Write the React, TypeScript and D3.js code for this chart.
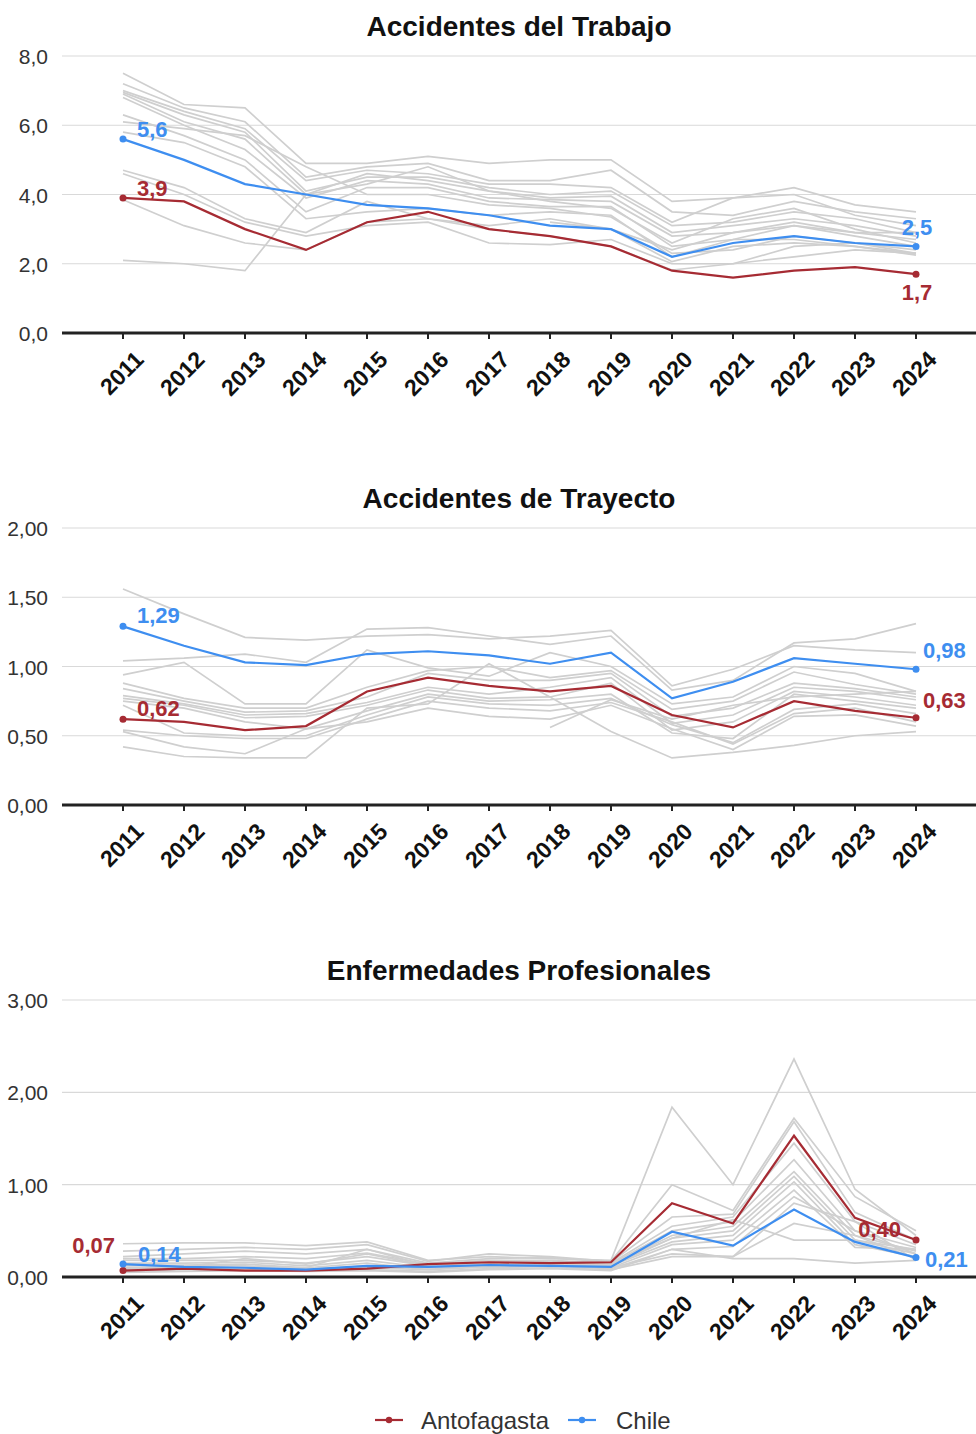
import React from "react";
import * as d3 from "d3";

const years = ["2011","2012","2013","2014","2015","2016","2017","2018","2019","2020","2021","2022","2023","2024"];

const titles = ["Accidentes del Trabajo", "Accidentes de Trayecto", "Enfermedades Profesionales"];
const seriesNames = ["Antofagasta", "Chile"];

// Accidentes del Trabajo
const trabajoChile = [5.6, 5.0, 4.3, 4.0, 3.7, 3.6, 3.4, 3.1, 3.0, 2.2, 2.6, 2.8, 2.6, 2.5];
const trabajoAntofagasta = [3.9, 3.8, 3.0, 2.4, 3.2, 3.5, 3.0, 2.8, 2.5, 1.8, 1.6, 1.8, 1.9, 1.7];
const trabajoOtras: (number | null)[][] = [
  [7.5, 6.6, 6.5, 4.9, 4.9, 5.1, 4.9, 5.0, 5.0, 3.8, 3.9, 4.2, 3.7, 3.5],
  [7.2, 6.5, 6.1, 4.5, 4.8, 4.9, 4.4, 4.4, 4.7, 3.5, 3.4, 3.8, 3.5, 3.3],
  [7.0, 6.4, 5.9, 4.4, 4.7, 4.6, 4.3, 4.3, 4.2, 3.2, 3.9, 4.0, 3.4, 3.1],
  [6.95, 6.3, 5.8, 4.1, 4.5, 4.5, 4.2, 4.0, 4.1, 3.1, 3.2, 3.5, 3.3, 2.9],
  [6.9, 6.1, 5.6, 4.0, 4.6, 4.4, 4.1, 3.9, 3.95, 2.9, 3.1, 3.3, 3.1, 2.8],
  [6.8, 6.0, 5.3, 3.9, 4.4, 4.3, 3.9, 3.85, 3.8, 2.8, 2.9, 3.2, 2.9, 2.7],
  [6.3, 5.7, 5.0, 3.5, 4.2, 4.2, 3.8, 3.65, 3.65, 2.5, 2.7, 3.1, 2.8, 2.5],
  [6.1, 5.9, 5.7, 4.8, 4.0, 4.0, 3.7, 3.6, 3.35, 2.3, 2.4, 2.8, 2.6, 2.4],
  [5.8, 5.5, 4.8, 3.3, 3.5, 3.6, 3.4, 3.5, 3.4, 2.2, 2.7, 2.7, 2.5, 2.3],
  [4.7, 4.2, 3.3, 2.9, 3.8, 3.3, 3.1, 3.3, 3.0, 2.06, 2.5, 2.6, 2.5, 2.25],
  [4.6, 4.0, 3.2, 2.8, 3.1, 3.2, 2.6, 2.55, 2.7, 2.0, 2.0, 2.5, 2.6, 2.3],
  [3.85, 3.1, 2.6, 2.4, 3.2, 3.3, 3.0, 2.8, 2.5, 1.82, 2.0, 2.2, 2.4, 2.3],
  [2.1, 2.0, 1.8, 4.0, 4.3, 4.8, 4.1, 3.8, 3.6, 2.6, 3.3, 3.6, 3.0, 2.6],
  [null, null, null, null, null, null, null, 3.2, 3.0, 2.4, 2.9, 3.1, 2.9, 2.9],
];

// Accidentes de Trayecto
const trayectoChile = [1.29, 1.15, 1.03, 1.01, 1.09, 1.11, 1.08, 1.02, 1.10, 0.77, 0.89, 1.06, 1.02, 0.98];
const trayectoAntofagasta = [0.62, 0.60, 0.54, 0.57, 0.82, 0.92, 0.86, 0.82, 0.86, 0.65, 0.56, 0.75, 0.68, 0.63];
const trayectoOtras: (number | null)[][] = [
  [1.56, 1.38, 1.21, 1.19, 1.22, 1.23, 1.20, 1.22, 1.26, 0.86, 0.98, 1.15, 1.12, 1.10],
  [1.04, 1.06, 1.09, 1.03, 1.27, 1.28, 1.22, 1.16, 1.22, 0.83, 0.90, 1.17, 1.20, 1.31],
  [0.94, 1.03, 0.73, 0.73, 1.12, 0.99, 0.93, 1.10, 1.00, 0.73, 0.78, 1.00, 0.95, 0.82],
  [0.88, 0.77, 0.70, 0.70, 0.85, 0.97, 1.00, 0.92, 0.97, 0.69, 0.75, 0.96, 0.87, 0.80],
  [0.84, 0.75, 0.67, 0.68, 0.78, 0.95, 0.90, 0.90, 0.95, 0.64, 0.70, 0.88, 0.84, 0.78],
  [0.79, 0.73, 0.65, 0.66, 0.74, 0.85, 0.80, 0.85, 0.92, 0.59, 0.65, 0.85, 0.82, 0.76],
  [0.77, 0.72, 0.63, 0.64, 0.72, 0.83, 0.77, 0.78, 0.88, 0.54, 0.60, 0.82, 0.78, 0.72],
  [0.75, 0.70, 0.60, 0.55, 0.68, 0.80, 0.75, 0.76, 0.80, 0.52, 0.48, 0.80, 0.75, 0.70],
  [0.72, 0.52, 0.50, 0.50, 0.65, 0.78, 0.73, 0.72, 0.77, 0.58, 0.45, 0.69, 0.73, 0.66],
  [0.54, 0.50, 0.48, 0.48, 0.62, 0.75, 0.70, 0.68, 0.74, 0.60, 0.44, 0.66, 0.70, 0.60],
  [0.53, 0.42, 0.37, 0.55, 0.60, 0.70, 0.64, 0.62, 0.72, 0.55, 0.40, 0.64, 0.65, 0.57],
  [0.42, 0.35, 0.34, 0.34, 0.70, 0.73, 1.02, 0.78, 0.53, 0.34, 0.38, 0.43, 0.50, 0.53],
  [null, null, null, null, null, null, null, 0.56, 0.76, 0.62, 0.72, 0.78, 0.80, 0.82],
];

// Enfermedades Profesionales
const enfermedadesChile = [0.14, 0.11, 0.10, 0.08, 0.12, 0.11, 0.13, 0.12, 0.11, 0.49, 0.34, 0.73, 0.38, 0.21];
const enfermedadesAntofagasta = [0.07, 0.09, 0.07, 0.07, 0.09, 0.14, 0.16, 0.15, 0.16, 0.80, 0.58, 1.53, 0.64, 0.40];
const enfermedadesOtras: (number | null)[][] = [
  [0.36, 0.37, 0.37, 0.34, 0.38, 0.18, 0.22, 0.20, 0.18, 1.84, 1.00, 2.36, 0.95, 0.45],
  [0.28, 0.30, 0.32, 0.30, 0.35, 0.17, 0.25, 0.22, 0.17, 1.00, 0.72, 1.72, 0.87, 0.50],
  [0.22, 0.25, 0.28, 0.25, 0.30, 0.15, 0.20, 0.21, 0.16, 0.65, 0.68, 1.68, 0.70, 0.40],
  [0.20, 0.20, 0.22, 0.20, 0.26, 0.14, 0.18, 0.18, 0.15, 0.55, 0.65, 1.45, 0.60, 0.35],
  [0.18, 0.18, 0.18, 0.15, 0.22, 0.12, 0.16, 0.17, 0.14, 0.50, 0.60, 1.27, 0.50, 0.32],
  [0.15, 0.15, 0.16, 0.12, 0.18, 0.10, 0.15, 0.16, 0.13, 0.45, 0.55, 1.14, 0.45, 0.28],
  [0.13, 0.13, 0.14, 0.10, 0.15, 0.08, 0.14, 0.15, 0.12, 0.42, 0.50, 1.09, 0.40, 0.25],
  [0.12, 0.12, 0.12, 0.10, 0.30, 0.12, 0.13, 0.14, 0.12, 0.38, 0.45, 1.03, 0.35, 0.22],
  [0.10, 0.10, 0.10, 0.08, 0.12, 0.10, 0.12, 0.13, 0.10, 0.35, 0.40, 0.94, 0.32, 0.30],
  [0.09, 0.11, 0.20, 0.14, 0.25, 0.12, 0.10, 0.12, 0.09, 0.30, 0.33, 0.87, 0.50, 0.25],
  [0.08, 0.10, 0.09, 0.09, 0.10, 0.08, 0.11, 0.12, 0.10, 0.25, 0.22, 0.80, 0.60, 0.18],
  [0.06, 0.08, 0.08, 0.07, 0.08, 0.06, 0.09, 0.10, 0.08, 0.22, 0.22, 0.58, 0.45, 0.20],
  [0.05, 0.06, 0.07, 0.06, 0.07, 0.05, 0.08, 0.09, 0.07, 0.30, 0.20, 0.20, 0.15, 0.18],
  [null, null, null, null, null, null, null, 0.15, 0.14, 0.42, 0.62, 0.40, 0.40, 0.30],
];

const trabajoTicks = [0, 2, 4, 6, 8];
const trayectoTicks = [0, 0.5, 1, 1.5, 2];
const enfermedadesTicks = [0, 1, 2, 3];

const panels = [
  { title: titles[0], chile: trabajoChile, antof: trabajoAntofagasta, otras: trabajoOtras, ticks: trabajoTicks, tickDec: 1, labelDec: 1 },
  { title: titles[1], chile: trayectoChile, antof: trayectoAntofagasta, otras: trayectoOtras, ticks: trayectoTicks, tickDec: 2, labelDec: 2 },
  { title: titles[2], chile: enfermedadesChile, antof: enfermedadesAntofagasta, otras: enfermedadesOtras, ticks: enfermedadesTicks, tickDec: 2, labelDec: 2 },
];

// label placement: [dx, dy, anchor]
type LP = [number, number, string];
const labelPos: { fc: LP; fa: LP; lc: LP; la: LP }[] = [
  { fc: [14, -2, "start"], fa: [14, -2, "start"], lc: [1, -11, "middle"], la: [1, 26, "middle"] },
  { fc: [14, -3, "start"], fa: [14, -3, "start"], lc: [7, -11, "start"], la: [7, -10, "start"] },
  { fc: [15, -2, "start"], fa: [-8, -18, "end"], lc: [9, 9, "start"], la: [-15, -3, "end"] },
];

const RED = "#a62b33";
const BLUE = "#3e8ef0";
const GRAY = "#cfcfcf";
const FONT = "'Liberation Sans', Arial, sans-serif";

const fmt = (v: number, d: number) => v.toFixed(d).replace(".", ",");

const W = 976;
const H = 1434;
const PANEL_STRIDE = 472;
const AXIS_Y = 333;
const PLOT_H = 277;
const LEFT = 62;

function Panel({ p, idx }: { p: (typeof panels)[number]; idx: number }) {
  const top = idx * PANEL_STRIDE;
  const x = d3.scalePoint<string>().domain(years).range([LEFT, W + 1]).padding(1);
  const yMax = p.ticks[p.ticks.length - 1];
  const y = d3.scaleLinear().domain([0, yMax]).range([top + AXIS_Y, top + AXIS_Y - PLOT_H]);
  const line = d3
    .line<number | null>()
    .defined((d) => d != null)
    .x((_, i) => x(years[i]) as number)
    .y((d) => y(d as number));
  const lp = labelPos[idx];
  const n = years.length - 1;
  const label = (v: number, i: number, pos: LP, color: string) => (
    <text
      x={(x(years[i]) as number) + pos[0]}
      y={y(v) + pos[1]}
      textAnchor={pos[2] as any}
      fill={color}
      fontSize={22}
      fontWeight="bold"
      fontFamily={FONT}
    >
      {fmt(v, p.labelDec)}
    </text>
  );
  return (
    <g>
      <text x={(LEFT + W) / 2} y={top + 36} textAnchor="middle" fontSize={28} fontWeight="bold" fontFamily={FONT} fill="#111">
        {p.title}
      </text>
      {p.ticks.map((t) => (
        <g key={t}>
          {t !== 0 && <line x1={LEFT} x2={W} y1={y(t)} y2={y(t)} stroke="#d9d9d9" strokeWidth={1.2} />}
          <text x={48} y={y(t) + 8} textAnchor="end" fontSize={21} fontFamily={FONT} fill="#333">
            {fmt(t, p.tickDec)}
          </text>
        </g>
      ))}
      {p.otras.map((s, i) => (
        <path key={i} d={line(s) || ""} fill="none" stroke={GRAY} strokeWidth={1.7} />
      ))}
      <path d={line(p.antof) || ""} fill="none" stroke={RED} strokeWidth={2.2} />
      <path d={line(p.chile) || ""} fill="none" stroke={BLUE} strokeWidth={2.2} />
      {[0, n].map((i) => (
        <g key={i}>
          <circle cx={x(years[i])} cy={y(p.antof[i])} r={3.5} fill={RED} />
          <circle cx={x(years[i])} cy={y(p.chile[i])} r={3.5} fill={BLUE} />
        </g>
      ))}
      <line x1={LEFT} x2={W} y1={y(0)} y2={y(0)} stroke="#222" strokeWidth={3} />
      {years.map((yr) => (
        <g key={yr}>
          <line x1={x(yr)} x2={x(yr)} y1={y(0)} y2={y(0) + 6} stroke="#222" strokeWidth={2} />
          <text
            transform={`translate(${(x(yr) as number) + 22},${y(0) + 28}) rotate(-45)`}
            textAnchor="end"
            fontSize={23}
            fontWeight="bold"
            fontFamily={FONT}
            fill="#111"
          >
            {yr}
          </text>
        </g>
      ))}
      {label(p.antof[0], 0, lp.fa, RED)}
      {label(p.chile[0], 0, lp.fc, BLUE)}
      {label(p.antof[n], n, lp.la, RED)}
      {label(p.chile[n], n, lp.lc, BLUE)}
    </g>
  );
}

export default function App() {
  const legendY = 1420;
  const legend = [
    { name: seriesNames[0], color: RED, x0: 375, tx: 421 },
    { name: seriesNames[1], color: BLUE, x0: 568, tx: 616 },
  ];
  return (
    <svg width={W} height={H} style={{ position: "absolute", left: 0, top: 0, background: "#fff" }}>
      <rect width={W} height={H} fill="#fff" />
      {panels.map((p, i) => (
        <Panel key={i} p={p} idx={i} />
      ))}
      {legend.map((l) => (
        <g key={l.name}>
          <line x1={l.x0} x2={l.x0 + 28} y1={legendY} y2={legendY} stroke={l.color} strokeWidth={2.2} />
          <circle cx={l.x0 + 14} cy={legendY} r={3.2} fill={l.color} />
          <text x={l.tx} y={legendY + 9} fontSize={24} fontFamily={FONT} fill="#333">
            {l.name}
          </text>
        </g>
      ))}
    </svg>
  );
}
